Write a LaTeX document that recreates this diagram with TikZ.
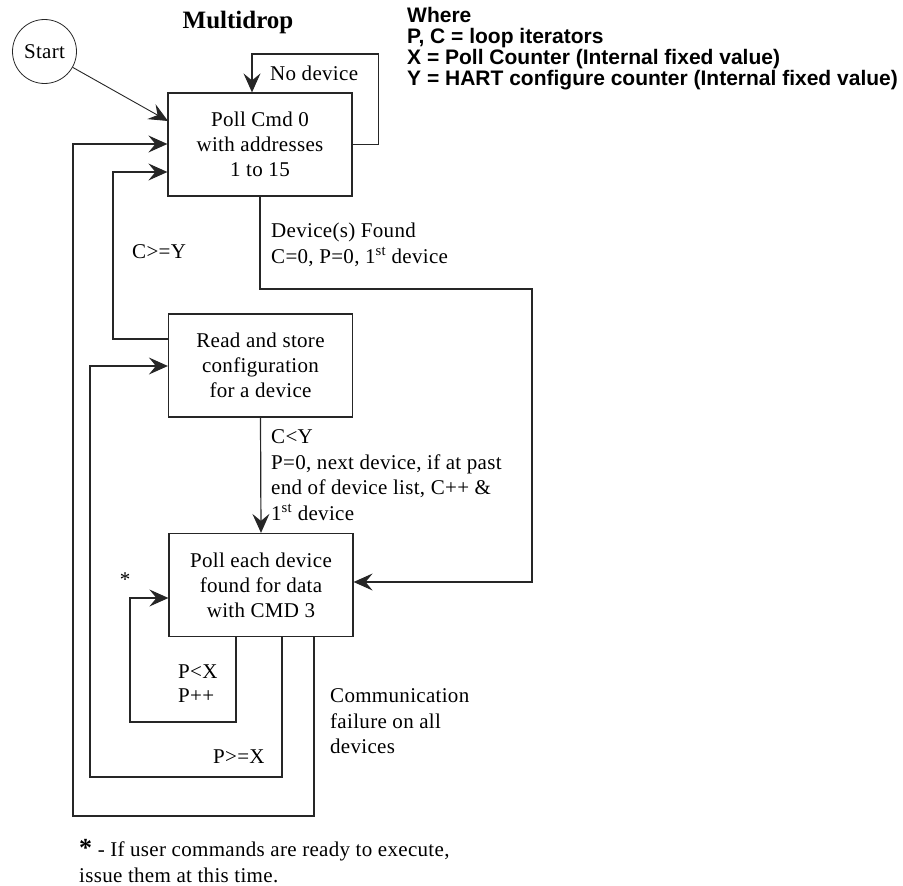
\documentclass[tikz,border=0pt]{standalone}
\usepackage{fontspec}
\setmainfont{Liberation Serif}
\newfontfamily\wherefont{Liberation Sans}
\usetikzlibrary{arrows.meta}
\begin{document}
\begin{tikzpicture}[x=1pt,y=-1pt,
  every node/.style={inner sep=0pt, font=\fontsize{21}{25}\selectfont\addfontfeature{LetterSpace=1.5}},
  box/.style={draw=black!85, line width=1.2pt, minimum width=184pt, minimum height=103pt, align=center},
  lbl/.style={anchor=base west},
  tip/.style={-{Stealth[length=19pt,width=17pt,inset=7pt]}},
  conn/.style={draw=black!85, line width=1.2pt},
  arr/.style={conn, tip}]
\useasboundingbox (0,0) rectangle (903,886);

% title and legend
\node[anchor=base, font=\fontsize{25}{30}\selectfont\bfseries] (title) at (238,28) {Multidrop};
\node[anchor=north west, align=left, font=\fontsize{21}{21}\selectfont\wherefont\bfseries] (where) at (407,7)
  {Where\\P, C = loop iterators\\X = Poll Counter (Internal fixed value)\\Y = HART configure counter (Internal fixed value)};

% nodes
\node[draw=black!85, circle, minimum size=64pt, line width=0.8pt] (s) at (44.5,51.5) {Start};
\node[box] (b1) at (260,144.5) {Poll Cmd 0\\with addresses\\1 to 15};
\node[box] (b2) at (260.5,365.5) {Read and store\\configuration\\for a device};
\node[box] (b3) at (261,585) {Poll each device\\found for data\\with CMD 3};

% coordinates
\coordinate (st) at (168,121);
\coordinate (nd) at (252,54);
\coordinate (df) at (532,289);
\coordinate (r3) at (532,582);
\coordinate (cy) at (113,172);
\coordinate (px) at (129,598);
\coordinate (pq) at (90,366);
\coordinate (cf) at (73,144);

% connectors
\draw[conn, line width=0.9pt, tip] (s) -- (st);
\draw[arr] (b1.east) -- ++(26,0) |- (nd) -- (nd |- b1.north);
\draw[arr] (b1.south) |- (df) -- (r3) -- (r3 -| b3.east);
\draw[arr] (b2.west |- 0,339) -| (cy) -- (cy -| b1.west);
\draw[arr] (b2.south) -- (b3.north);
\draw[arr] (b3.south -| 236,0) |- (130,722) |- (px) -- (px -| b3.west);
\draw[arr] (b3.south -| 282,0) |- (90,777) |- (pq) -- (pq -| b2.west);
\draw[arr] (b3.south -| 314,0) |- (73,816) |- (cf) -- (cf -| b1.west);

% labels
\node[lbl] (lnd) at (270,80) {No device};
\node[lbl] (ldf1) at (271,237) {Device(s) Found};
\node[lbl] (ldf2) at (271,263) {C=0, P=0, 1\textsuperscript{st} device};
\node[lbl] (lcy) at (132,258) {C>=Y};
\node[lbl] (lcl1) at (271,443) {C<Y};
\node[lbl] (lcl2) at (271,469) {P=0, next device, if at past};
\node[lbl] (lcl3) at (271,494) {end of device list, C++ \&};
\node[lbl] (lcl4) at (271,520) {1\textsuperscript{st} device};
\node (star) at (125,580) {*};
\node[lbl] (lpx1) at (178,678) {P<X};
\node[lbl] (lpx2) at (178,702) {P++};
\node[lbl] (lpge) at (213,763) {P>=X};
\node[lbl] (lcf1) at (330,702) {Communication};
\node[lbl] (lcf2) at (330,728) {failure on all};
\node[lbl] (lcf3) at (330,753) {devices};
\node[lbl] (fn1) at (79,856) {{\fontsize{26}{25}\selectfont\bfseries *} - If user commands are ready to execute,};
\node[lbl] (fn2) at (79,882) {issue them at this time.};
\end{tikzpicture}
\end{document}
